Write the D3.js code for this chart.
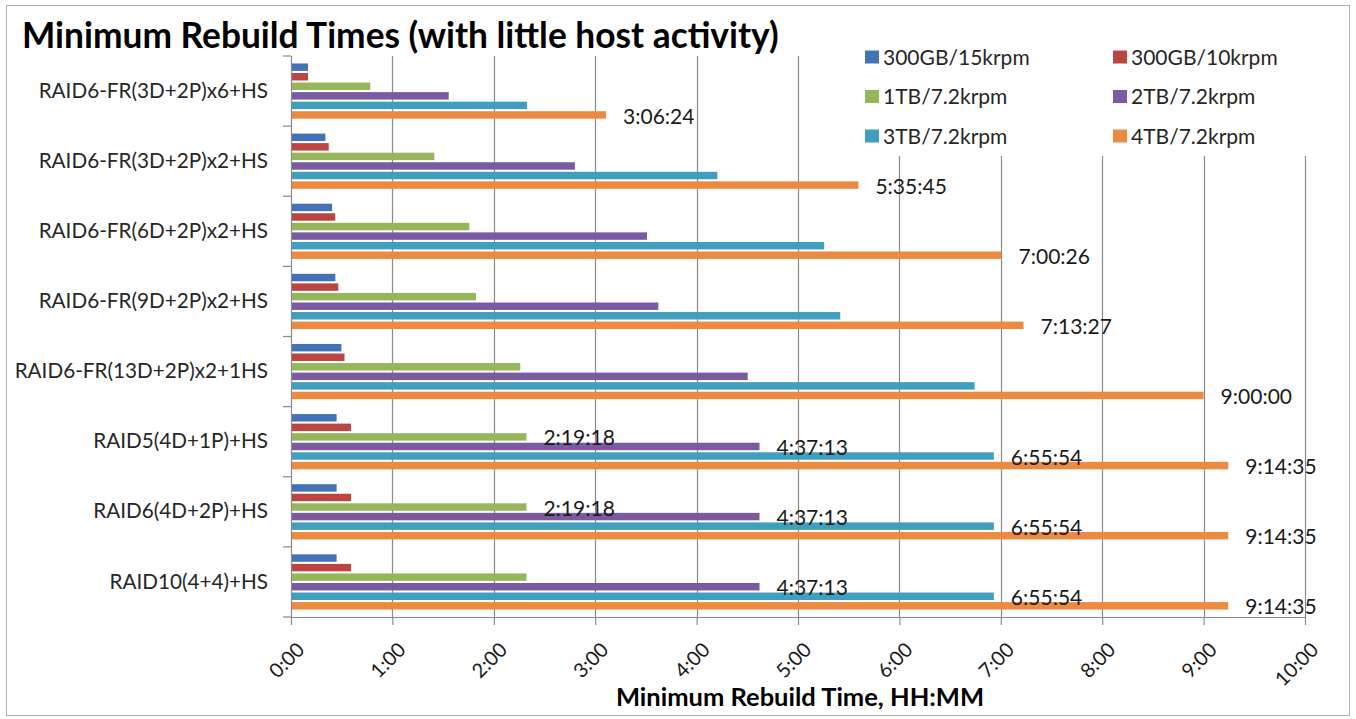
<!DOCTYPE html>
<html>
<head>
<meta charset="utf-8">
<script src="https://cdn.jsdelivr.net/npm/d3@7"></script>
<style>
  html, body { margin: 0; padding: 0; background: #fff; }
  svg { display: block; }
  text { font-family: Lato, "Open Sans", sans-serif; }
</style>
</head>
<body>
<svg id="chart" width="1356" height="719"></svg>
<script>
// RAID layouts, top to bottom
const categories = [
  "RAID6-FR(3D+2P)x6+HS",
  "RAID6-FR(3D+2P)x2+HS",
  "RAID6-FR(6D+2P)x2+HS",
  "RAID6-FR(9D+2P)x2+HS",
  "RAID6-FR(13D+2P)x2+1HS",
  "RAID5(4D+1P)+HS",
  "RAID6(4D+2P)+HS",
  "RAID10(4+4)+HS"
];

// Drive types (one bar per drive type in every layout)
const seriesNames = ["300GB/15krpm", "300GB/10krpm", "1TB/7.2krpm", "2TB/7.2krpm", "3TB/7.2krpm", "4TB/7.2krpm"];

// Rebuild times, H:MM:SS, one entry per layout
const drive300GB15k = ["0:10:05", "0:20:20", "0:24:20", "0:26:15", "0:29:50", "0:27:00", "0:27:00", "0:27:00"];
const drive300GB10k = ["0:10:05", "0:22:20", "0:26:10", "0:28:00", "0:31:40", "0:35:30", "0:35:30", "0:35:30"];
const drive1TB      = ["0:46:55", "1:24:50", "1:45:30", "1:49:30", "2:15:40", "2:19:18", "2:19:18", "2:19:18"];
const drive2TB      = ["1:33:20", "2:48:00", "3:30:40", "3:37:20", "4:30:15", "4:37:13", "4:37:13", "4:37:13"];
const drive3TB      = ["2:19:40", "4:12:15", "5:15:30", "5:25:00", "6:44:30", "6:55:54", "6:55:54", "6:55:54"];
const drive4TB      = ["3:06:24", "5:35:45", "7:00:26", "7:13:27", "9:00:00", "9:14:35", "9:14:35", "9:14:35"];

// Which drive types (series index) carry a value label in each layout
const labelledSeries = [[5], [5], [5], [5], [5], [2, 3, 4, 5], [2, 3, 4, 5], [3, 4, 5]];

// Hour tick labels along the time axis
const xTickLabels = ["0:00", "1:00", "2:00", "3:00", "4:00", "5:00", "6:00", "7:00", "8:00", "9:00", "10:00"];

const palette = ["#4472b6", "#bc4542", "#95b65a", "#7a5ba1", "#3f9fbd", "#ec8b40"];

const seriesValues = [drive300GB15k, drive300GB10k, drive1TB, drive2TB, drive3TB, drive4TB];

// "H:MM:SS" -> hours
function toHours(s) {
  const [h, m, sec] = s.split(":").map(Number);
  return h + m / 60 + sec / 3600;
}

const svg = d3.select("#chart");
const W = 1356, H = 719;
const plot = { left: 291, right: 1305, top: 56, bottom: 617 };

// outer chart frame
svg.append("rect")
  .attr("x", 6.5).attr("y", 5.5)
  .attr("width", W - 13).attr("height", H - 9)
  .attr("fill", "#fff").attr("stroke", "#b0b0b0").attr("stroke-width", 1);

const x = d3.scaleLinear().domain([0, 10]).range([plot.left, plot.right]);
const y = d3.scaleBand().domain(categories).range([plot.top, plot.bottom]).paddingInner(0).paddingOuter(0);
const ySub = d3.scaleBand().domain(d3.range(seriesNames.length))
  .range([0, y.bandwidth()]).paddingInner(0.22).paddingOuter(0.78);

const gridColor = "#8a8a8a";

// vertical gridlines
svg.append("g").selectAll("line")
  .data(d3.range(1, 11))
  .join("line")
  .attr("x1", d => Math.round(x(d)) + 0.5).attr("x2", d => Math.round(x(d)) + 0.5)
  .attr("y1", plot.top).attr("y2", plot.bottom)
  .attr("stroke", gridColor).attr("stroke-width", 1.2);

// bars
const groups = svg.append("g").selectAll("g")
  .data(categories)
  .join("g")
  .attr("transform", d => `translate(0,${y(d)})`);

groups.selectAll("rect")
  .data((c, ci) => seriesValues.map((vals, si) => ({ si, ci, v: toHours(vals[ci]) })))
  .join("rect")
  .attr("x", x(0))
  .attr("y", d => ySub(d.si))
  .attr("width", d => x(d.v) - x(0))
  .attr("height", ySub.bandwidth())
  .attr("fill", d => palette[d.si]);

// value labels
groups.selectAll("text.val")
  .data((c, ci) => labelledSeries[ci].map(si => ({ si, ci, s: seriesValues[si][ci] })))
  .join("text")
  .attr("class", "val")
  .attr("x", d => x(toHours(d.s)) + 17)
  .attr("y", d => ySub(d.si) + ySub.bandwidth() / 2 + 1)
  .attr("dy", "0.36em")
  .attr("font-size", 21)
  .attr("fill", "#1a1a1a")
  .text(d => d.s);

// time axis
const xAxis = d3.axisBottom(x)
  .tickValues(d3.range(0, 11))
  .tickSize(8)
  .tickFormat(i => xTickLabels[i]);

const gx = svg.append("g")
  .attr("transform", `translate(0,${plot.bottom})`)
  .call(xAxis);
gx.select(".domain").attr("stroke", gridColor).attr("stroke-width", 1.2)
  .attr("d", `M${plot.left},0.5H${plot.right}`);
gx.selectAll(".tick line").attr("stroke", gridColor).attr("stroke-width", 1.2);
gx.selectAll(".tick text")
  .attr("font-size", 20)
  .attr("fill", "#1a1a1a")
  .attr("text-anchor", "end")
  .attr("y", 0).attr("dy", "0.36em")
  .attr("transform", "translate(9,29) rotate(-45)");

// category axis
const yAxis = d3.axisLeft(y).tickSize(0).tickPadding(23);
const gy = svg.append("g")
  .attr("transform", `translate(${plot.left},0)`)
  .call(yAxis);
gy.select(".domain").attr("stroke", gridColor).attr("stroke-width", 1.2)
  .attr("d", `M0.5,${plot.top}V${plot.bottom}`);
gy.selectAll(".tick text")
  .attr("font-size", 20.7)
  .attr("fill", "#262626");

// tick marks between categories
gy.append("g").selectAll("line")
  .data(d3.range(categories.length + 1))
  .join("line")
  .attr("x1", -8).attr("x2", 0)
  .attr("y1", i => plot.top + i * y.step()).attr("y2", i => plot.top + i * y.step())
  .attr("stroke", gridColor).attr("stroke-width", 1.2);

// legend (sits on a white panel over the plot)
const legend = svg.append("g");
legend.append("rect")
  .attr("x", 852).attr("y", 34).attr("width", 460).attr("height", 122)
  .attr("fill", "#fff");
const legItems = legend.selectAll("g")
  .data(seriesNames)
  .join("g")
  .attr("transform", (d, i) => `translate(${865 + (i % 2) * 248},${57 + Math.floor(i / 2) * 39.5})`);
legItems.append("rect")
  .attr("x", 0).attr("y", -6.5).attr("width", 14).attr("height", 13)
  .attr("fill", (d, i) => palette[i]);
legItems.append("text")
  .attr("x", 18).attr("y", 0).attr("dy", "0.36em")
  .attr("font-size", 21)
  .attr("fill", "#262626")
  .text(d => d);

// titles
svg.append("text")
  .attr("x", 22).attr("y", 35).attr("dy", "0.36em")
  .attr("font-size", 35.3).attr("font-weight", "bold")
  .attr("fill", "#000")
  .text("Minimum Rebuild Times (with little host activity)");

svg.append("text")
  .attr("x", 800).attr("y", 697).attr("dy", "0.36em")
  .attr("text-anchor", "middle")
  .attr("font-size", 25.5).attr("font-weight", "bold")
  .attr("fill", "#000")
  .text("Minimum Rebuild Time, HH:MM");
</script>
</body>
</html>
